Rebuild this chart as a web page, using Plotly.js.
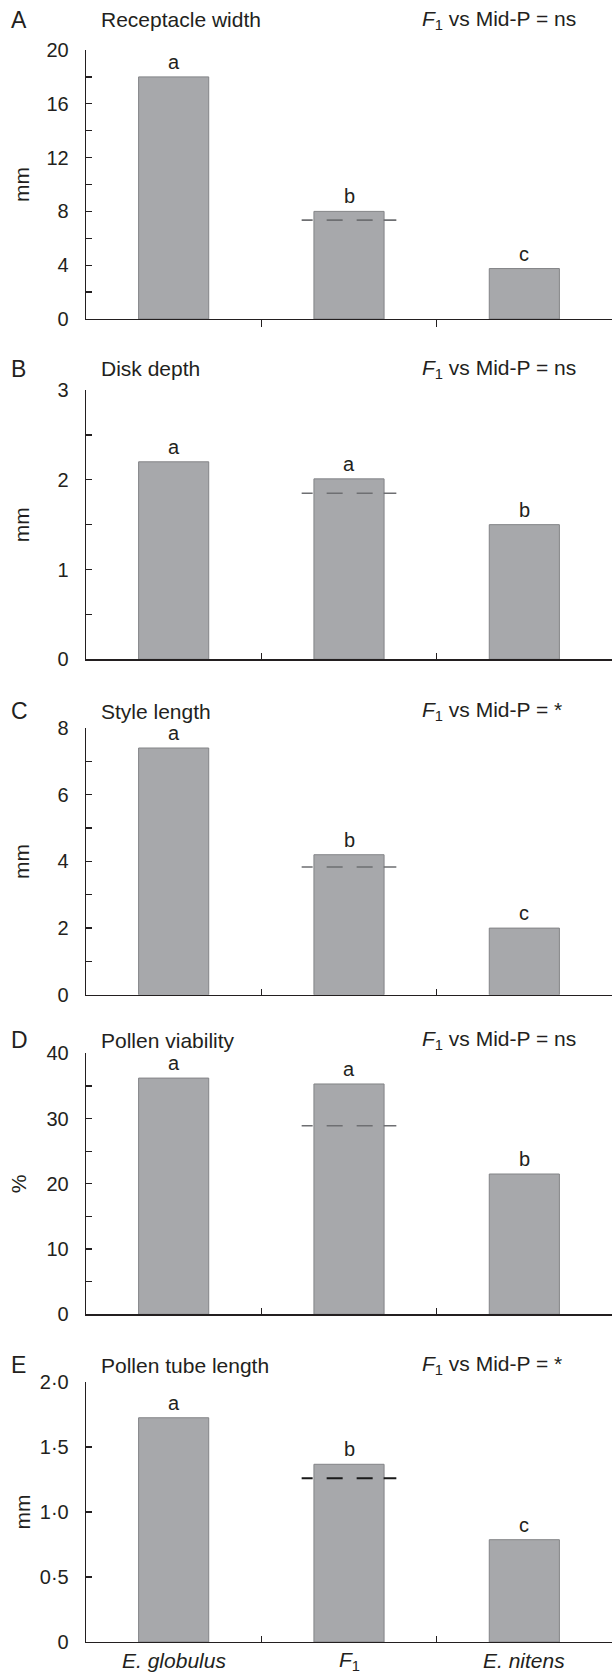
<!DOCTYPE html>
<html>
<head>
<meta charset="utf-8">
<script src="https://cdn.plot.ly/plotly-3.0.1.min.js"></script>
<style>html,body{margin:0;padding:0;background:#fff;}#chart{width:612px;height:1673px;}</style>
</head>
<body>
<div id="chart"></div>
<script>
// ---- data ----
const categories = ['<i>E. globulus</i>', '<i>F</i><sub>1</sub>', '<i>E. nitens</i>'];
const panelLetters = ['A', 'B', 'C', 'D', 'E'];
const traitNames = ['Receptacle width', 'Disk depth', 'Style length', 'Pollen viability', 'Pollen tube length'];
const significance = ['ns', 'ns', '*', 'ns', '*'];
const units = ['mm', 'mm', 'mm', '%', 'mm'];
const receptacleWidth = [18.0, 8.0, 3.75];
const diskDepth = [2.2, 2.01, 1.5];
const styleLength = [7.4, 4.2, 2.0];
const pollenViability = [36.2, 35.3, 21.5];
const pollenTubeLength = [1.725, 1.367, 0.787];
const midParent = [7.35, 1.85, 3.83, 28.9, 1.26];
const groupLetters = [['a', 'b', 'c'], ['a', 'a', 'b'], ['a', 'b', 'c'], ['a', 'a', 'b'], ['a', 'b', 'c']];
const yMax = [20, 3, 8, 40, 2];
const yMinorStep = [2, 0.5, 1, 5, 0.5];
const yLabelStep = [4, 1, 2, 10, 0.5];
const eTickVals = [0, 0.5, 1, 1.5, 2];
const eTickText = ['0', '0·5', '1·0', '1·5', '2·0'];

const series = [receptacleWidth, diskDepth, styleLength, pollenViability, pollenTubeLength];

// ---- layout geometry (pixels) ----
const W = 612, H = 1673;
const axisLeft = 86;
const panelTop = [50, 390, 728, 1053.3, 1382];
const panelBottom = [319, 659.3, 994.8, 1314.3, 1642];
const headerY = [20, 368.5, 711, 1040, 1365];
const FONT = '"Liberation Sans", Arial, Helvetica, sans-serif';
const INK = '#231f20';

const px = x => x / W;
const py = y => 1 - y / H;

const traces = [];
const layout = {
  width: W, height: H,
  margin: {l: 0, r: 0, t: 0, b: 0},
  paper_bgcolor: '#fff', plot_bgcolor: 'rgba(0,0,0,0)',
  showlegend: false,
  font: {family: FONT, color: INK, size: 20},
  annotations: []
};

series.forEach((vals, i) => {
  const n = i + 1;
  const xa = 'x' + n, ya = 'y' + n;
  traces.push({
    type: 'bar', x: [0, 1, 2], y: vals, width: 0.4,
    xaxis: xa, yaxis: ya,
    marker: {color: '#a7a8ab', line: {color: '#838487', width: 1}},
    hoverinfo: 'skip'
  });
  const isE = i === 4;
  traces.push({
    type: 'scatter', mode: 'lines',
    x: [1 - 0.27, 1 + 0.27], y: [midParent[i], midParent[i]],
    xaxis: xa, yaxis: ya,
    line: {color: isE ? '#1a1a1a' : '#6e6f72', width: isE ? 2 : 1.6, dash: '11px,14px,16px,14px,16px,11px,14px'},
    hoverinfo: 'skip'
  });

  layout['xaxis' + n] = {
    domain: [px(axisLeft), 1], range: [-0.5, 2.5], anchor: ya,
    showgrid: false, zeroline: false, showline: true, linecolor: INK, linewidth: 1.3,
    tickmode: 'array', tickvals: [0.5, 1.5], showticklabels: false,
    ticks: i === 0 ? 'outside' : 'inside', ticklen: i === 0 ? 7 : 6, tickwidth: 1.3, tickcolor: INK,
    fixedrange: true
  };
  const yax = {
    domain: [py(panelBottom[i]), py(panelTop[i])], range: [0, yMax[i]], anchor: xa,
    showgrid: false, zeroline: false, showline: true, linecolor: INK, linewidth: 1.3,
    ticks: 'inside', ticklen: 6, tickwidth: 1.3, tickcolor: INK,
    ticklabelstandoff: 12,
    tickfont: {family: FONT, size: 20, color: INK},
    fixedrange: true
  };
  if (isE) {
    yax.tickmode = 'array'; yax.tickvals = eTickVals; yax.ticktext = eTickText;
  } else {
    yax.tickmode = 'linear'; yax.tick0 = 0; yax.dtick = yLabelStep[i];
    yax.minor = {tickmode: 'linear', tick0: 0, dtick: yMinorStep[i], ticks: 'inside', ticklen: 6, tickwidth: 1.3, tickcolor: INK, showgrid: false};
  }
  layout['yaxis' + n] = yax;

  // letters above bars
  vals.forEach((v, j) => {
    layout.annotations.push({
      xref: xa, yref: ya, x: j, y: v, text: groupLetters[i][j],
      showarrow: false, xanchor: 'center', yanchor: 'bottom', yshift: 2,
      font: {family: FONT, size: 20, color: INK}
    });
  });

  // header texts
  layout.annotations.push({
    xref: 'paper', yref: 'paper', x: px(9), y: py(headerY[i]), text: panelLetters[i],
    showarrow: false, xanchor: 'left', yanchor: 'middle', font: {family: FONT, size: 23, color: INK}
  });
  layout.annotations.push({
    xref: 'paper', yref: 'paper', x: px(99), y: py(headerY[i]), text: traitNames[i],
    showarrow: false, xanchor: 'left', yanchor: 'middle', font: {family: FONT, size: 21, color: INK}
  });
  layout.annotations.push({
    xref: 'paper', yref: 'paper', x: px(420), y: py(headerY[i]),
    text: '<i>F</i><sub>1</sub> vs Mid-P = ' + significance[i],
    showarrow: false, xanchor: 'left', yanchor: 'middle', font: {family: FONT, size: 21, color: INK}
  });
  // y-axis unit
  layout.annotations.push({
    xref: 'paper', yref: 'paper', x: px(units[i] === '%' ? 18.5 : 21.5), y: py((panelTop[i] + panelBottom[i]) / 2),
    text: units[i], textangle: -90,
    showarrow: false, xanchor: 'center', yanchor: 'middle', font: {family: FONT, size: 21, color: INK}
  });
});

// category labels under the last panel
categories.forEach((c, j) => {
  layout.annotations.push({
    xref: 'x5', yref: 'paper', x: j, y: py(1660.5), text: c,
    showarrow: false, xanchor: 'center', yanchor: 'middle', font: {family: FONT, size: 21, color: INK}
  });
});

Plotly.newPlot('chart', traces, layout, {staticPlot: true, displayModeBar: false});
</script>
</body>
</html>
